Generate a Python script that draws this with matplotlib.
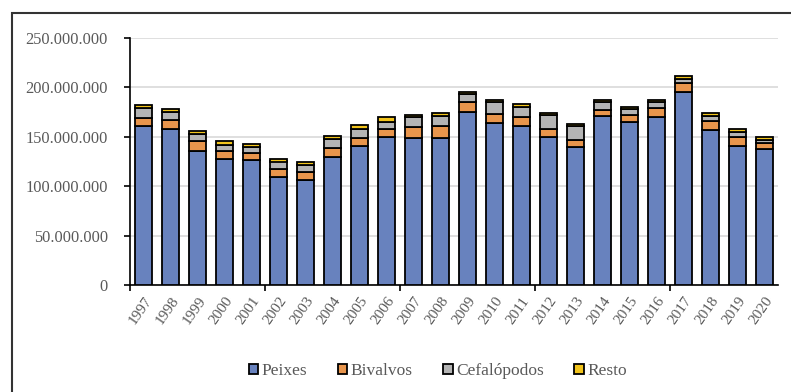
import numpy as np
import matplotlib.pyplot as plt
from matplotlib.patches import Rectangle
from matplotlib.ticker import FuncFormatter, MultipleLocator

################################
# Data
################################
years = [str(y) for y in range(1997, 2021)]

# segment heights, in millions
peixes = [160.6, 158.0, 136.0, 127.7, 127.0, 109.0, 106.5, 129.3, 140.4, 150.2,
          148.9, 148.9, 175.4, 164.0, 160.6, 150.2, 139.4, 171.0, 164.6, 170.4,
          194.9, 157.0, 140.8, 137.4]
bivalvos = [8.0, 8.6, 10.0, 8.3, 6.4, 8.6, 8.1, 9.5, 8.5, 7.8,
            10.7, 12.1, 9.4, 9.0, 9.0, 7.8, 7.5, 6.4, 7.8, 8.3,
            9.4, 9.3, 9.4, 6.0]
cefalopodos = [10.1, 8.8, 7.0, 6.0, 6.0, 7.4, 7.1, 8.7, 8.7, 7.3,
               10.0, 9.7, 8.7, 11.8, 10.8, 14.0, 14.1, 7.4, 5.3, 6.8,
               4.1, 4.7, 5.0, 3.5]
resto = [3.3, 2.6, 3.0, 3.5, 3.4, 3.0, 2.6, 3.5, 4.4, 4.3,
         2.8, 3.0, 2.1, 2.7, 3.1, 2.4, 2.3, 2.0, 2.0, 2.0,
         3.6, 2.7, 2.4, 3.0]

series = [("Peixes", peixes, "#6882be"),
          ("Bivalvos", bivalvos, "#e8954c"),
          ("Cefalópodos", cefalopodos, "#b4b4b4"),
          ("Resto", resto, "#f2c41c")]

################################
# Plot
################################
plt.rcParams['font.family'] = ['Liberation Serif', 'DejaVu Serif']
text_col = "#595959"

fig = plt.figure(figsize=(7.91, 3.92), dpi=100)
ax = fig.add_axes([130/791, 1-285/392, (778-130)/791, (285-38)/392])

x = np.arange(len(years))
bottom = np.zeros(len(years))
for name, vals, col in series:
    v = np.array(vals) * 1e6
    ax.bar(x, v, bottom=bottom, width=0.6, color=col, edgecolor="black",
           linewidth=1.3, label=name, zorder=3)
    bottom += v

ax.set_xlim(-0.5, len(years) - 0.5)
ax.set_ylim(0, 250e6)
ax.yaxis.set_major_locator(MultipleLocator(50e6))
ax.yaxis.set_major_formatter(FuncFormatter(lambda v, p: f"{int(v):,}".replace(",", ".")))
ax.grid(axis="y", color="#d9d9d9", linewidth=1.2, zorder=0)

ax.set_xticks(x)
ax.set_xticklabels(years, rotation=55, ha="right", rotation_mode="anchor")
ax.tick_params(axis="x", length=0, labelsize=11, labelcolor=text_col, pad=7)
ax.set_xticks(np.arange(-0.5, len(years), 5), minor=True)
ax.tick_params(axis="x", which="minor", length=4, width=1.2, direction="out")
ax.tick_params(axis="y", length=4, width=1.2, labelsize=11.8, labelcolor=text_col, pad=12)

for s in ["top", "right"]:
    ax.spines[s].set_visible(False)
for s in ["left", "bottom"]:
    ax.spines[s].set_linewidth(1.2)

fig.legend(loc="center", bbox_to_anchor=(438/791, 1-371/392), ncol=4,
           frameon=False, fontsize=12.5, labelcolor=text_col,
           handlelength=0.55, handleheight=0.55, handletextpad=0.2,
           columnspacing=1.75)

# outer frame of the original figure (cut at right and bottom)
fig.patches.append(Rectangle((12/791, -0.1), 1.2, 1-13/392+0.1,
                             transform=fig.transFigure, fill=False,
                             edgecolor="#333333", linewidth=1.5))

fig.savefig("out.png", dpi=100)
